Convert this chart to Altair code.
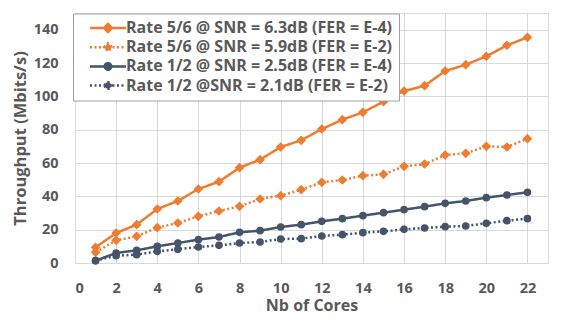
import altair as alt
import pandas as pd

cores = list(range(1, 23))
labels = [
    "Rate 5/6 @ SNR = 6.3dB (FER = E-4)",
    "Rate 5/6 @ SNR = 5.9dB (FER = E-2)",
    "Rate 1/2 @ SNR = 2.5dB (FER = E-4)",
    "Rate 1/2 @SNR = 2.1dB (FER = E-2)",
]
r56_63 = [9.4, 18, 23, 32.4, 37.2, 44.4, 48.8, 57.2, 62, 69.6, 73.6, 80.4, 86, 90.4, 96.8, 103.2, 106.4, 115.2, 119, 124, 130.6, 135.4]
r56_59 = [6.4, 13.6, 16, 21.2, 24, 28, 31.2, 34, 38.4, 40.4, 44, 48.4, 49.8, 52.4, 53.2, 58, 59.4, 64.8, 65.8, 70, 69.6, 74.6]
r12_25 = [1.4, 6, 7.6, 10, 12, 14, 15.6, 18.4, 19.4, 21.6, 23, 25, 26.6, 28.4, 30.2, 32, 33.8, 35.8, 37.2, 39.2, 40.8, 42.4]
r12_21 = [1.4, 4.4, 5, 7, 8.2, 9.6, 10.6, 12, 12.6, 14.4, 14.6, 16.2, 17, 18.2, 19, 20.2, 21, 21.8, 22.2, 23.8, 25.4, 26.6]
series = [r56_63, r56_59, r12_25, r12_21]

ORANGE = "#ED7D31"
NAVY = "#44546A"
colors = [ORANGE, ORANGE, NAVY, NAVY]
dashes = [[1, 0], [2, 2.5], [1, 0], [2, 2.5]]
DIAMOND_SYM = "M-1,0H6.2M1.8,0L2.6,-0.8L3.4,0L2.6,0.8Z"
CIRCLE_SYM = "M-1,0H6.2M1.95,0A0.65,0.65,0,1,0,3.25,0A0.65,0.65,0,1,0,1.95,0Z"
legend_shapes = [DIAMOND_SYM, DIAMOND_SYM, CIRCLE_SYM, CIRCLE_SYM]

rows = []
for lab, vals in zip(labels, series):
    for c, v in zip(cores, vals):
        rows.append({"series": lab, "cores": c, "tp": v})
df = pd.DataFrame(rows)

FONT = "Open Sans"
GRAY = "#595959"

x_enc = alt.X(
    "cores:Q",
    scale=alt.Scale(domain=[0, 23], nice=False),
    axis=alt.Axis(
        values=list(range(0, 23, 2)), title="Nb of Cores", ticks=False, domain=False,
        labelFont=FONT, labelFontSize=14.5, labelFontWeight="bold", labelColor=GRAY,
        labelPadding=18, titleFont=FONT, titleFontSize=16, titleFontWeight="bold",
        titleColor=GRAY, titlePadding=3, gridColor="#D9D9D9",
    ),
)
y_enc = alt.Y(
    "tp:Q",
    scale=alt.Scale(domain=[0, 150], nice=False),
    axis=alt.Axis(
        values=list(range(0, 141, 20)), title="Throughput (Mbits/s)", ticks=False, domain=False,
        labelFont=FONT, labelFontSize=14.5, labelFontWeight="bold", labelColor=GRAY,
        labelPadding=17, titleFont=FONT, titleFontSize=16.5, titleFontWeight="bold",
        titleColor=GRAY, titlePadding=5, gridColor="#D9D9D9",
    ),
)

base = alt.Chart(df).encode(x=x_enc, y=y_enc)

legend = alt.Legend(
    orient="none", legendX=-2, legendY=0.5, title=None,
    labelFont=FONT, labelFontSize=16, labelFontWeight="bold", labelColor=GRAY,
    labelLimit=0, labelOffset=23, labelExpr="datum.label + ' '",
    symbolSize=100, symbolStrokeWidth=2.5, symbolOffset=7.5,
    padding=6.5, rowPadding=1.2,
    fillColor="white", strokeColor="#A0A0A0",
)
legend_layer = base.transform_filter("false").mark_point(
    filled=True, size=100, opacity=1, strokeWidth=2.5
).encode(
    fill=alt.Fill("series:N", scale=alt.Scale(domain=labels, range=colors), legend=legend),
    stroke=alt.Stroke("series:N", scale=alt.Scale(domain=labels, range=colors), legend=legend),
    shape=alt.Shape("series:N", scale=alt.Scale(domain=labels, range=legend_shapes), legend=legend),
    strokeDash=alt.StrokeDash("series:N", scale=alt.Scale(domain=labels, range=dashes), legend=legend),
)

lines = base.mark_line(strokeWidth=2.5).encode(
    stroke=alt.Stroke("series:N", scale=alt.Scale(domain=labels, range=colors)),
    strokeDash=alt.StrokeDash("series:N", scale=alt.Scale(domain=labels, range=dashes)),
    detail="series:N",
)
diamonds = base.transform_filter(
    alt.FieldOneOfPredicate(field="series", oneOf=labels[:2])
).mark_point(shape="diamond", filled=True, size=95, opacity=1).encode(
    fill=alt.Fill("series:N", scale=alt.Scale(domain=labels, range=colors)),
)
circles = base.transform_filter(
    alt.FieldOneOfPredicate(field="series", oneOf=labels[2:])
).mark_point(shape="circle", filled=True, size=58, opacity=1).encode(
    fill=alt.Fill("series:N", scale=alt.Scale(domain=labels, range=colors)),
)

chart = alt.layer(legend_layer, lines, diamonds, circles).properties(
    width=473, height=250,
    autosize=alt.AutoSizeParams(type="none"),
    padding={"left": 67, "top": 5, "right": 7, "bottom": 51},
    background="white",
).configure_view(stroke="#D9D9D9")

chart.save("out.html", embed_options={"renderer": "svg", "actions": False})
